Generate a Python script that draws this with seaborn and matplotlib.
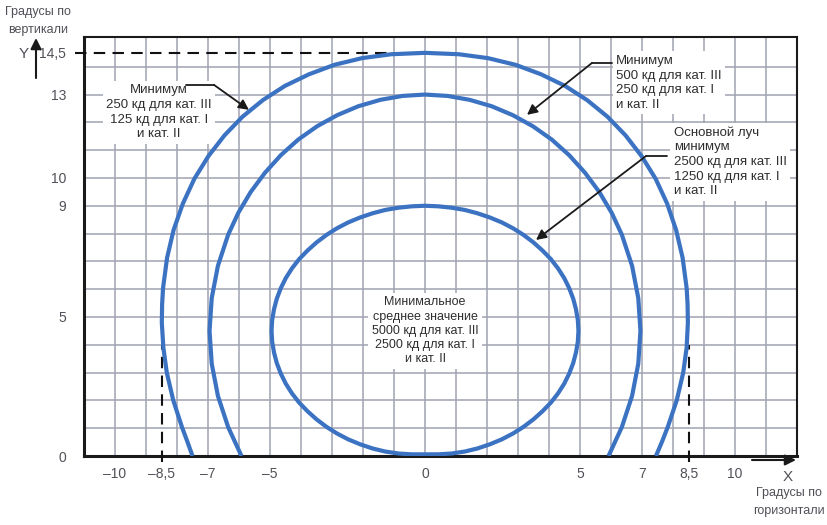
import matplotlib
matplotlib.use("Agg")
import matplotlib.pyplot as plt
import seaborn as sns
import pandas as pd

# ---------------- data ----------------
inner_x = [0, 0.43, 0.86, 1.28, 1.69, 2.09, 2.48, 2.84, 3.18, 3.50, 3.79, 4.06, 4.29, 4.49, 4.65, 4.78, 4.87, 4.93, 4.95,
           4.93, 4.87, 4.78, 4.65, 4.49, 4.29, 4.06, 3.79, 3.50, 3.18, 2.84, 2.48, 2.09, 1.69, 1.28, 0.86, 0.43, 0,
           -0.43, -0.86, -1.28, -1.69, -2.09, -2.48, -2.84, -3.18, -3.50, -3.79, -4.06, -4.29, -4.49, -4.65, -4.78,
           -4.87, -4.93, -4.95,
           -4.93, -4.87, -4.78, -4.65, -4.49, -4.29, -4.06, -3.79, -3.50, -3.18, -2.84, -2.48, -2.09, -1.69, -1.28,
           -0.86, -0.43, 0]
inner_y = [0.06, 0.06, 0.09, 0.16, 0.27, 0.42, 0.60, 0.81, 1.05, 1.32, 1.61, 1.92, 2.25, 2.60, 2.96, 3.34, 3.72, 4.11, 4.5,
           4.89, 5.28, 5.66, 6.04, 6.40, 6.75, 7.08, 7.39, 7.68, 7.95, 8.19, 8.40, 8.58, 8.73, 8.85, 8.93, 8.98, 9.0,
           8.98, 8.93, 8.85, 8.73, 8.58, 8.40, 8.19, 7.95, 7.68, 7.39, 7.08, 6.75, 6.40, 6.04, 5.66,
           5.28, 4.89, 4.5,
           4.11, 3.72, 3.34, 2.96, 2.60, 2.25, 1.92, 1.61, 1.32, 1.05, 0.81, 0.60, 0.42, 0.27, 0.16,
           0.09, 0.06, 0.06]

middle_x = [-5.92, -6.35, -6.68, -6.88, -6.95, -6.88, -6.68, -6.35, -6.02, -5.62, -5.16, -4.65, -4.09, -3.48, -2.83,
            -2.15, -1.44, -0.73, 0,
            0.73, 1.44, 2.15, 2.83, 3.48, 4.09, 4.65, 5.16, 5.62, 6.02, 6.35, 6.68, 6.88, 6.95, 6.88, 6.68, 6.35, 5.92]
middle_y = [0.0, 1.04, 2.16, 3.32, 4.5, 5.68, 6.84, 7.96, 8.75, 9.5, 10.19, 10.82, 11.38, 11.86, 12.26,
            12.58, 12.81, 12.95, 13.0,
            12.95, 12.81, 12.58, 12.26, 11.86, 11.38, 10.82, 10.19, 9.5, 8.75, 7.96, 6.84, 5.68, 4.5, 3.32, 2.16, 1.04, 0.0]

outer_x = [-7.5, -7.66, -7.84, -8.12, -8.33, -8.44, -8.49, -8.48, -8.45, -8.32, -8.11, -7.81, -7.44, -6.99, -6.47,
           -5.89, -5.23, -4.52, -3.74, -2.92, -2.03, -1.09, 0,
           1.09, 2.03, 2.92, 3.74, 4.52, 5.23, 5.89, 6.47, 6.99, 7.44, 7.81, 8.1, 8.31, 8.44, 8.47, 8.48, 8.44, 8.33,
           8.12, 7.83, 7.64, 7.45]
outer_y = [0.0, 0.5, 1.04, 2.0, 3.0, 3.9, 4.8, 5.46, 6.04, 7.13, 8.13, 9.08, 9.97, 10.78, 11.53,
           12.2, 12.8, 13.31, 13.73, 14.07, 14.31, 14.45, 14.5,
           14.45, 14.31, 14.07, 13.73, 13.31, 12.8, 12.2, 11.53, 10.78, 9.97, 9.08, 8.13, 7.13, 6.04, 5.46, 4.8, 3.9, 3.0,
           2.0, 1.04, 0.5, 0.0]

x_ticks = [-10, -8.5, -7, -5, 0, 5, 7, 8.5, 10]
x_tick_labels = ["–10", "–8,5", "–7", "–5", "0", "5", "7", "8,5", "10"]
y_ticks = [0, 5, 9, 10, 13, 14.5]
y_tick_labels = ["0", "5", "9", "10", "13", "14,5"]

label_outer = "Минимум\n250 кд для кат. III\n125 кд для кат. I\nи кат. II"
label_middle = "Минимум\n500 кд для кат. III\n250 кд для кат. I\nи кат. II"
label_inner = "Основной луч\nминимум\n2500 кд для кат. III\n1250 кд для кат. I\nи кат. II"
label_center = "Минимальное\nсреднее значение\n5000 кд для кат. III\n2500 кд для кат. I\nи кат. II"
x_name = "Градусы по\nгоризонтали"
y_name = "Градусы по\nвертикали"

# ---------------- style ----------------
sns.set_style("white")
plt.rcParams["font.family"] = ["Liberation Sans", "DejaVu Sans"]

BLUE = "#3b73c2"
GRID = "#9fa3b0"
TXT = "#2e2e30"
TCK = "#505058"

W, H = 827, 525
fig = plt.figure(figsize=(W / 100, H / 100), dpi=100)
ax = fig.add_axes([84 / W, 69 / H, 713 / W, 419 / H])
ax.set_xlim(-11, 12)
ax.set_ylim(0, 15.07)

# grid every degree (keep minor lines even where a labelled tick sits)
ax.xaxis.remove_overlapping_locs = False
ax.yaxis.remove_overlapping_locs = False
ax.set_xticks(range(-11, 13), minor=True)
ax.set_yticks(range(0, 15), minor=True)
ax.grid(which="minor", color=GRID, lw=1.1)
ax.grid(which="major", visible=False)
ax.set_axisbelow(True)

ax.set_xticks(x_ticks)
ax.set_xticklabels(x_tick_labels)
ax.set_yticks(y_ticks)
ax.set_yticklabels(y_tick_labels)
ax.tick_params(which="minor", length=0)
ax.tick_params(axis="x", which="major", length=0, pad=8, labelsize=10, labelcolor=TCK)
ax.tick_params(axis="y", which="major", length=7, width=1, color="#8a8a8a", pad=6, labelsize=10, labelcolor=TCK)

for side, lw in [("left", 2.2), ("bottom", 2.2), ("top", 1.5), ("right", 1.5)]:
    ax.spines[side].set_color("#1a1a1a")
    ax.spines[side].set_linewidth(lw)

# curves
for cx, cy in [(outer_x, outer_y), (middle_x, middle_y), (inner_x, inner_y)]:
    df = pd.DataFrame({"x": cx, "y": cy})
    sns.lineplot(data=df, x="x", y="y", sort=False, estimator=None, color=BLUE, lw=3.0, ax=ax, zorder=5,
                 solid_joinstyle="round", solid_capstyle="butt")
ax.set_xlabel("")
ax.set_ylabel("")

# dashed reference lines
dash = (0, (5.5, 3.5))
ax.plot([-11.29, -1.0], [14.5, 14.5], ls=dash, color="#111111", lw=1.5, clip_on=False, zorder=3)
for xv in (-8.5, 8.5):
    ax.plot([xv, xv], [-0.2, 4.0], ls=dash, color="#111111", lw=1.5, clip_on=False, zorder=3)

# text boxes
box = dict(facecolor="white", edgecolor="none", pad=2.5)
ax.text(-8.58, 12.36, label_outer, ha="center", va="center", fontsize=9.5, color=TXT, linespacing=1.3, bbox=box, zorder=4)
ax.text(6.17, 13.42, label_middle, ha="left", va="center", fontsize=9.5, color=TXT, linespacing=1.3, bbox=box, zorder=4)
ax.text(8.03, 10.58, label_inner, ha="left", va="center", fontsize=9.5, color=TXT, linespacing=1.3, bbox=box, zorder=4)
ax.text(0, 4.5, label_center, ha="center", va="center", fontsize=9, color=TXT, linespacing=1.25, bbox=box, zorder=4)

# leader arrows
arrows = [((-7.71, 13.35), (-6.81, 13.35), (-5.68, 12.45)),
          ((6.03, 14.14), (5.39, 14.14), (3.29, 12.27)),
          ((7.81, 10.79), (7.13, 10.79), (3.58, 7.77))]
for start, knee, tip in arrows:
    ax.plot([start[0], knee[0]], [start[1], knee[1]], color="#1a1a1a", lw=1.3, zorder=6)
    ax.annotate("", xy=tip, xytext=knee,
                arrowprops=dict(arrowstyle="-|>", color="#1a1a1a", lw=1.3, mutation_scale=15,
                                shrinkA=0, shrinkB=0), zorder=6)

# axis arrows and names
ax.annotate("", xy=(36, H - 38), xytext=(36, H - 78), xycoords="figure pixels", textcoords="figure pixels",
            arrowprops=dict(arrowstyle="-|>", color="#1a1a1a", lw=1.5, mutation_scale=16, shrinkA=0, shrinkB=0),
            annotation_clip=False)
ax.annotate("", xy=(796, H - 460), xytext=(752, H - 460), xycoords="figure pixels", textcoords="figure pixels",
            arrowprops=dict(arrowstyle="-|>", color="#1a1a1a", lw=1.5, mutation_scale=16, shrinkA=0, shrinkB=0),
            annotation_clip=False)
fig.text(24 / W, 1 - 54 / H, "Y", ha="center", va="center", fontsize=11, color=TCK)
fig.text(788 / W, 1 - 477 / H, "X", ha="center", va="center", fontsize=11, color=TCK)
fig.text(38 / W, 1 - 21 / H, y_name, ha="center", va="center", fontsize=9, color=TCK, linespacing=1.65)
fig.text(789 / W, 1 - 502 / H, x_name, ha="center", va="center", fontsize=9, color=TCK, linespacing=1.65)

fig.savefig("out.png", dpi=100, facecolor="white")
